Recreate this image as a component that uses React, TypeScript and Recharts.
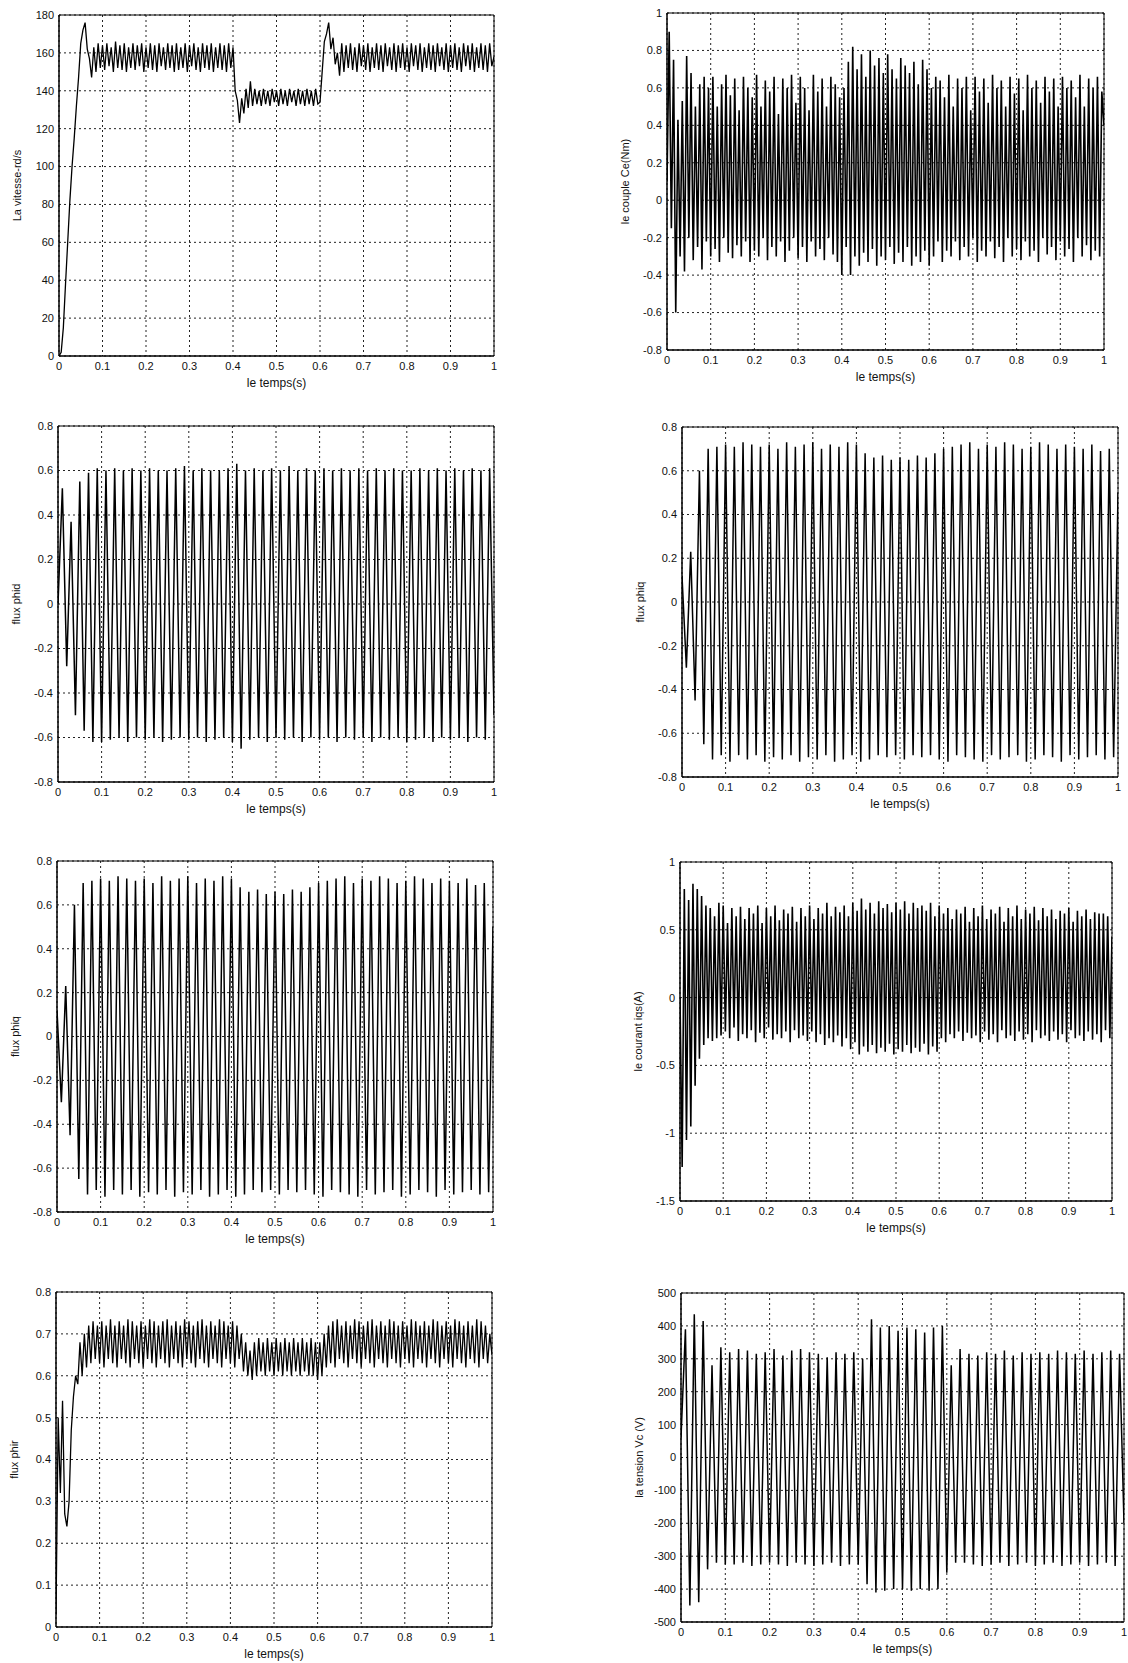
import React from 'react';
import { LineChart, Line, XAxis, YAxis, CartesianGrid, ReferenceArea } from 'recharts';

const FONT = '"Liberation Sans", Arial, Helvetica, sans-serif';

// shared time ticks (s)
const timeTicks = [0, 0.1, 0.2, 0.3, 0.4, 0.5, 0.6, 0.7, 0.8, 0.9, 1];

// y tick labels per panel
const speedTicks = [0, 20, 40, 60, 80, 100, 120, 140, 160, 180];
const torqueTicks = [-0.8, -0.6, -0.4, -0.2, 0, 0.2, 0.4, 0.6, 0.8, 1];
const fluxTicks = [-0.8, -0.6, -0.4, -0.2, 0, 0.2, 0.4, 0.6, 0.8];
const currentTicks = [-1.5, -1, -0.5, 0, 0.5, 1];
const phirTicks = [0, 0.1, 0.2, 0.3, 0.4, 0.5, 0.6, 0.7, 0.8];
const voltageTicks = [-500, -400, -300, -200, -100, 0, 100, 200, 300, 400, 500];

// La vitesse-rd/s (samples every 0.005 s)
const speed = [
  0, 2, 15, 38, 60, 82, 100, 115, 132, 147, 165, 172, 176, 162, 157, 147, 163, 150, 165, 152,
  164, 151, 165, 153, 163, 150, 166, 152, 164, 151, 165, 150, 163, 152, 165, 151, 164, 153, 165, 150,
  163, 152, 165, 151, 164, 150, 165, 153, 163, 151, 165, 152, 164, 150, 165, 151, 163, 152, 165, 150,
  164, 153, 165, 151, 163, 150, 165, 152, 164, 151, 165, 150, 163, 152, 165, 151, 164, 150, 165, 152,
  163, 140, 135, 123, 136, 128, 141, 131, 145, 132, 141, 133, 140, 132, 141, 133, 140, 132, 141, 134,
  140, 132, 141, 133, 140, 132, 141, 134, 140, 132, 141, 133, 140, 132, 141, 133, 140, 132, 141, 133,
  134, 150, 166, 170, 176, 162, 168, 154, 160, 148, 165, 150, 164, 152, 165, 151, 163, 150, 165, 153,
  164, 151, 165, 150, 163, 152, 165, 151, 164, 150, 165, 153, 163, 151, 165, 150, 164, 152, 165, 151,
  163, 150, 165, 153, 164, 151, 165, 150, 163, 152, 165, 151, 164, 150, 165, 153, 163, 151, 165, 150,
  164, 152, 165, 151, 163, 150, 165, 153, 164, 151, 165, 150, 163, 152, 165, 151, 164, 150, 165, 153, 158,
];

// le couple Ce(Nm) (samples every 0.005 s)
const torque = [
  0.1, 0.9, -0.15, 0.75, -0.6, 0.43, -0.3, 0.53, -0.38, 0.77, -0.2, 0.68, -0.32, 0.5, -0.25, 0.62, -0.37, 0.66, -0.22, 0.6,
  -0.3, 0.66, -0.26, 0.5, -0.33, 0.62, -0.2, 0.67, -0.28, 0.56, -0.31, 0.65, -0.24, 0.48, -0.3, 0.66, -0.22, 0.6, -0.33, 0.55,
  -0.27, 0.67, -0.3, 0.5, -0.2, 0.64, -0.32, 0.58, -0.25, 0.66, -0.3, 0.46, -0.22, 0.65, -0.33, 0.6, -0.27, 0.67, -0.2, 0.52,
  -0.31, 0.66, -0.25, 0.6, -0.33, 0.48, -0.22, 0.67, -0.3, 0.58, -0.26, 0.65, -0.32, 0.5, -0.2, 0.66, -0.29, 0.62, -0.33, 0.55,
  -0.4, 0.6, -0.25, 0.74, -0.4, 0.82, -0.3, 0.7, -0.35, 0.78, -0.28, 0.66, -0.33, 0.8, -0.26, 0.72, -0.35, 0.76, -0.3, 0.68,
  -0.32, 0.78, -0.25, 0.7, -0.34, 0.65, -0.28, 0.76, -0.33, 0.72, -0.25, 0.68, -0.35, 0.74, -0.3, 0.62, -0.33, 0.75, -0.27, 0.7,
  -0.35, 0.6, -0.3, 0.66, -0.22, 0.64, -0.33, 0.55, -0.27, 0.67, -0.3, 0.5, -0.22, 0.65, -0.32, 0.6, -0.25, 0.66, -0.3, 0.48,
  -0.2, 0.66, -0.33, 0.58, -0.27, 0.65, -0.3, 0.52, -0.22, 0.67, -0.31, 0.6, -0.25, 0.64, -0.33, 0.5, -0.2, 0.66, -0.3, 0.57,
  -0.26, 0.65, -0.32, 0.48, -0.22, 0.67, -0.3, 0.6, -0.27, 0.64, -0.33, 0.52, -0.2, 0.66, -0.29, 0.58, -0.25, 0.65, -0.32, 0.5,
  -0.22, 0.66, -0.3, 0.6, -0.26, 0.64, -0.33, 0.55, -0.2, 0.67, -0.3, 0.5, -0.24, 0.65, -0.32, 0.6, -0.27, 0.66, -0.3, 0.58, 0.4,
];

// flux phid (samples every 0.01 s)
const phid = [
  0, 0.52, -0.28, 0.37, -0.5, 0.55, -0.57, 0.59, -0.62, 0.61,
  -0.62, 0.6, -0.61, 0.61, -0.6, 0.6, -0.62, 0.61, -0.6, 0.6,
  -0.61, 0.61, -0.6, 0.6, -0.62, 0.6, -0.61, 0.61, -0.6, 0.62,
  -0.61, 0.6, -0.6, 0.61, -0.62, 0.6, -0.61, 0.6, -0.6, 0.61,
  -0.62, 0.63, -0.65, 0.6, -0.61, 0.61, -0.6, 0.6, -0.62, 0.61,
  -0.6, 0.6, -0.61, 0.62, -0.6, 0.6, -0.62, 0.61, -0.6, 0.6,
  -0.61, 0.61, -0.6, 0.6, -0.62, 0.61, -0.6, 0.6, -0.61, 0.61,
  -0.6, 0.6, -0.62, 0.61, -0.6, 0.6, -0.61, 0.61, -0.6, 0.6,
  -0.62, 0.6, -0.61, 0.61, -0.6, 0.6, -0.62, 0.61, -0.6, 0.6,
  -0.61, 0.61, -0.6, 0.6, -0.62, 0.61, -0.6, 0.6, -0.61, 0.61, -0.5,
];

// flux phiq (samples every 0.01 s)
const phiq = [
  0.12, -0.3, 0.23, -0.45, 0.6, -0.65, 0.7, -0.72, 0.71, -0.7,
  0.72, -0.73, 0.71, -0.7, 0.73, -0.72, 0.72, -0.7, 0.71, -0.73,
  0.72, -0.71, 0.7, -0.72, 0.73, -0.7, 0.71, -0.73, 0.72, -0.71,
  0.73, -0.72, 0.7, -0.7, 0.72, -0.73, 0.71, -0.72, 0.73, -0.7,
  0.72, -0.73, 0.68, -0.72, 0.66, -0.7, 0.67, -0.71, 0.65, -0.7,
  0.66, -0.72, 0.65, -0.7, 0.67, -0.71, 0.66, -0.7, 0.68, -0.72,
  0.7, -0.73, 0.71, -0.7, 0.72, -0.71, 0.73, -0.72, 0.7, -0.73,
  0.72, -0.7, 0.71, -0.72, 0.73, -0.71, 0.72, -0.7, 0.7, -0.73,
  0.71, -0.72, 0.73, -0.7, 0.72, -0.71, 0.7, -0.73, 0.72, -0.7,
  0.71, -0.72, 0.7, -0.71, 0.72, -0.7, 0.69, -0.72, 0.7, -0.71, 0.5,
];

// le courant iqs(A) (samples every 0.005 s)
const current = [
  0, -1.25, 0.8, -1.05, 0.72, -0.95, 0.84, -0.65, 0.8, -0.45, 0.75, -0.35, 0.68, -0.3, 0.66, -0.32, 0.6, -0.3, 0.7, -0.28,
  0.68, -0.25, 0.55, -0.3, 0.66, -0.22, 0.6, -0.32, 0.67, -0.27, 0.58, -0.3, 0.66, -0.24, 0.62, -0.33, 0.68, -0.26, 0.55, -0.3,
  0.66, -0.22, 0.6, -0.31, 0.68, -0.27, 0.57, -0.3, 0.65, -0.25, 0.62, -0.33, 0.67, -0.24, 0.56, -0.3, 0.66, -0.28, 0.6, -0.32,
  0.68, -0.25, 0.58, -0.33, 0.66, -0.27, 0.62, -0.35, 0.7, -0.3, 0.6, -0.33, 0.67, -0.28, 0.63, -0.36, 0.68, -0.3, 0.6, -0.38,
  0.7, -0.33, 0.64, -0.42, 0.73, -0.36, 0.65, -0.4, 0.7, -0.35, 0.62, -0.41, 0.71, -0.37, 0.66, -0.4, 0.69, -0.34, 0.63, -0.42,
  0.7, -0.38, 0.65, -0.4, 0.71, -0.35, 0.62, -0.41, 0.7, -0.37, 0.66, -0.4, 0.68, -0.34, 0.64, -0.42, 0.7, -0.36, 0.6, -0.4,
  0.68, -0.3, 0.62, -0.33, 0.66, -0.27, 0.58, -0.3, 0.65, -0.25, 0.62, -0.32, 0.67, -0.26, 0.56, -0.3, 0.66, -0.28, 0.6, -0.33,
  0.68, -0.25, 0.58, -0.31, 0.65, -0.27, 0.62, -0.33, 0.67, -0.24, 0.56, -0.3, 0.66, -0.28, 0.6, -0.32, 0.68, -0.25, 0.58, -0.31,
  0.65, -0.27, 0.62, -0.33, 0.67, -0.24, 0.57, -0.3, 0.66, -0.28, 0.6, -0.32, 0.65, -0.25, 0.58, -0.31, 0.64, -0.27, 0.62, -0.33,
  0.66, -0.24, 0.56, -0.3, 0.64, -0.28, 0.6, -0.32, 0.65, -0.25, 0.58, -0.31, 0.63, -0.27, 0.62, -0.33, 0.62, -0.24, 0.6, -0.3, 0.45,
];

// flux phir (samples every 0.005 s)
const phir = [
  0.03, 0.5, 0.32, 0.54, 0.27, 0.24, 0.3, 0.47, 0.55, 0.6, 0.58, 0.68, 0.6, 0.7, 0.62, 0.72, 0.63, 0.73, 0.64, 0.72,
  0.63, 0.73, 0.62, 0.72, 0.64, 0.735, 0.63, 0.72, 0.62, 0.73, 0.64, 0.72, 0.63, 0.735, 0.62, 0.73, 0.64, 0.72, 0.63, 0.73,
  0.62, 0.72, 0.64, 0.735, 0.63, 0.73, 0.62, 0.72, 0.64, 0.73, 0.63, 0.735, 0.62, 0.72, 0.64, 0.73, 0.63, 0.72, 0.62, 0.735,
  0.64, 0.73, 0.63, 0.72, 0.62, 0.73, 0.64, 0.735, 0.63, 0.72, 0.62, 0.73, 0.64, 0.72, 0.63, 0.735, 0.62, 0.73, 0.64, 0.72,
  0.63, 0.73, 0.62, 0.72, 0.64, 0.7, 0.61, 0.68, 0.6, 0.66, 0.59, 0.68, 0.6, 0.69, 0.61, 0.68, 0.6, 0.69, 0.61, 0.68,
  0.6, 0.69, 0.61, 0.68, 0.6, 0.69, 0.61, 0.68, 0.6, 0.69, 0.61, 0.68, 0.6, 0.69, 0.61, 0.68, 0.6, 0.69, 0.6, 0.68,
  0.59, 0.68, 0.6, 0.7, 0.62, 0.72, 0.63, 0.73, 0.62, 0.735, 0.64, 0.72, 0.63, 0.73, 0.62, 0.72, 0.64, 0.735, 0.63, 0.73,
  0.62, 0.72, 0.64, 0.73, 0.63, 0.735, 0.62, 0.72, 0.64, 0.73, 0.63, 0.72, 0.62, 0.735, 0.64, 0.73, 0.63, 0.72, 0.62, 0.73,
  0.64, 0.72, 0.63, 0.735, 0.62, 0.73, 0.64, 0.72, 0.63, 0.73, 0.62, 0.72, 0.64, 0.735, 0.63, 0.73, 0.62, 0.72, 0.64, 0.73,
  0.63, 0.72, 0.62, 0.735, 0.64, 0.73, 0.63, 0.72, 0.62, 0.73, 0.64, 0.72, 0.63, 0.735, 0.62, 0.73, 0.64, 0.72, 0.63, 0.7, 0.65,
];

// la tension Vc (V) (samples every 0.01 s)
const voltage = [
  60, 390, -450, 435, -440, 415, -340, 280, -320, 335,
  -325, 320, -325, 330, -320, 325, -330, 315, -325, 320,
  -320, 330, -325, 310, -330, 325, -320, 330, -325, 320,
  -330, 315, -325, 305, -320, 320, -330, 315, -325, 320,
  -325, 300, -385, 420, -410, 395, -405, 400, -400, 385,
  -400, 395, -405, 390, -400, 380, -405, 395, -400, 400,
  -350, 280, -320, 330, -320, 315, -325, 310, -330, 320,
  -325, 315, -320, 325, -330, 310, -325, 320, -320, 315,
  -330, 320, -325, 315, -320, 325, -330, 320, -325, 315,
  -320, 325, -330, 315, -325, 320, -320, 325, -330, 315, -200,
];

const L = 60;
const T = 10;
const R = 12;
const B = 50;

const YTitle = (props: any) => {
  const vb = props.viewBox || { x: 0, y: 0, width: 0, height: 0 };
  const cx = vb.x + vb.width - 42;
  const cy = vb.y + vb.height / 2;
  return (
    <text
      x={cx}
      y={cy}
      transform={`rotate(-90 ${cx} ${cy})`}
      textAnchor="middle"
      dominantBaseline="central"
      fontSize={11}
      fontFamily={FONT}
      fill="#111"
    >
      {props.text}
    </text>
  );
};

const XTitle = (props: any) => {
  const vb = props.viewBox || { x: 0, y: 0, width: 0, height: 0 };
  const cx = vb.x + vb.width / 2;
  const cy = vb.y + 27;
  return (
    <text x={cx} y={cy} textAnchor="middle" dominantBaseline="central" fontSize={12} fontFamily={FONT} fill="#111">
      {props.text}
    </text>
  );
};

type PanelProps = {
  left: number;
  top: number;
  w: number;
  h: number;
  values: number[];
  yTicks: number[];
  yLabel: string;
  sw: number;
};

function Panel({ left, top, w, h, values, yTicks, yLabel, sw }: PanelProps) {
  const data = values.map((v, i) => ({ t: i / (values.length - 1), v }));
  const yMin = yTicks[0];
  const yMax = yTicks[yTicks.length - 1];
  return (
    <div style={{ position: 'absolute', left: left - L, top: top - T }}>
      <LineChart width={w + L + R} height={h + T + B} data={data} margin={{ top: T, right: R, bottom: 0, left: 0 }}>
        <CartesianGrid stroke="#222" strokeDasharray="2 3" strokeWidth={1} />
        <XAxis
          type="number"
          dataKey="t"
          domain={[0, 1]}
          ticks={timeTicks}
          interval={0}
          height={B}
          tickLine={false}
          tickSize={0}
          tickMargin={6}
          axisLine={{ stroke: '#000' }}
          tick={{ fontSize: 11, fill: '#111', fontFamily: FONT }}
          tickFormatter={(v: number) => String(v)}
          label={<XTitle text="le temps(s)" />}
          allowDataOverflow
        />
        <YAxis
          type="number"
          domain={[yMin, yMax]}
          ticks={yTicks}
          interval={0}
          width={L}
          tickLine={false}
          tickSize={0}
          tickMargin={5}
          axisLine={{ stroke: '#000' }}
          tick={{ fontSize: 11, fill: '#111', fontFamily: FONT }}
          tickFormatter={(v: number) => String(v)}
          label={<YTitle text={yLabel} />}
          allowDataOverflow
        />
        <Line
          type="linear"
          dataKey="v"
          stroke="#000"
          strokeWidth={sw}
          dot={false}
          activeDot={false}
          isAnimationActive={false}
        />
        <ReferenceArea
          x1={0}
          x2={1}
          y1={yMin}
          y2={yMax}
          fill="none"
          fillOpacity={0}
          stroke="#000"
          strokeWidth={1}
          ifOverflow="visible"
        />
      </LineChart>
    </div>
  );
}

export default function App() {
  return (
    <div
      style={{
        position: 'absolute',
        left: 0,
        top: 0,
        width: 1128,
        height: 1663,
        overflow: 'hidden',
        background: '#fff',
      }}
    >
      <Panel left={59} top={15} w={435} h={341} values={speed} yTicks={speedTicks} yLabel="La vitesse-rd/s" sw={1.3} />
      <Panel left={667} top={13} w={437} h={337} values={torque} yTicks={torqueTicks} yLabel="le couple Ce(Nm)" sw={1.6} />
      <Panel left={58} top={426} w={436} h={356} values={phid} yTicks={fluxTicks} yLabel="flux phid" sw={1.5} />
      <Panel left={682} top={427} w={436} h={350} values={phiq} yTicks={fluxTicks} yLabel="flux phiq" sw={1.5} />
      <Panel left={57} top={861} w={436} h={351} values={phiq} yTicks={fluxTicks} yLabel="flux phiq" sw={1.5} />
      <Panel left={680} top={862} w={432} h={339} values={current} yTicks={currentTicks} yLabel="le courant iqs(A)" sw={1.6} />
      <Panel left={56} top={1292} w={436} h={335} values={phir} yTicks={phirTicks} yLabel="flux phir" sw={1.3} />
      <Panel left={681} top={1293} w={443} h={329} values={voltage} yTicks={voltageTicks} yLabel="la tension Vc (V)" sw={1.5} />
    </div>
  );
}
